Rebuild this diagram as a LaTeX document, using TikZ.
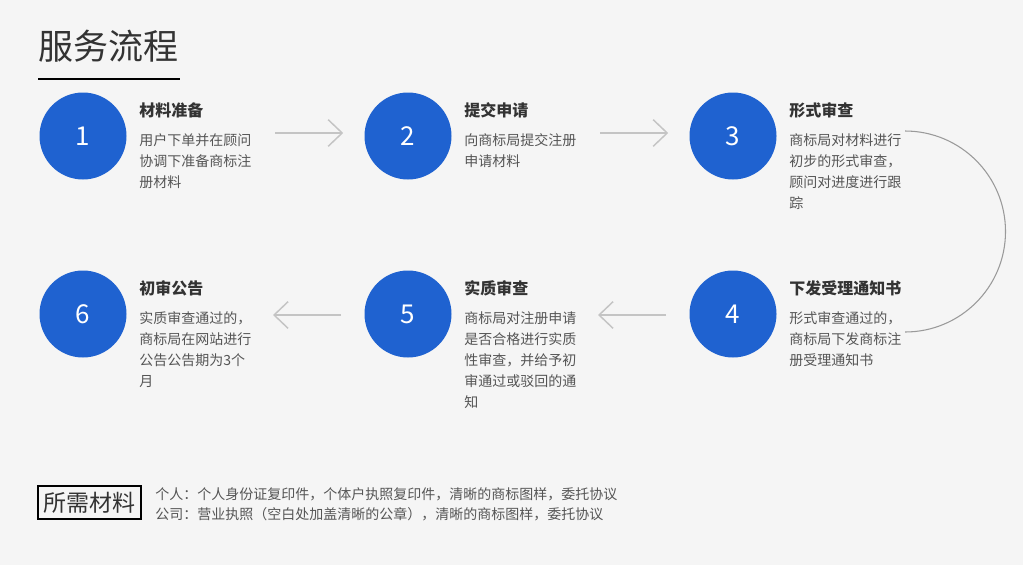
\documentclass[tikz,border=0pt]{standalone}
\usepackage{fontspec}
\setmainfont{Noto Sans CJK SC}
\usetikzlibrary{arrows.meta}
\definecolor{stepblue}{HTML}{1F62D0}
\definecolor{pagegray}{HTML}{F5F5F5}
\definecolor{headgray}{HTML}{333333}
\definecolor{textgray}{HTML}{555555}
\definecolor{arrowgray}{HTML}{C4C4C4}
\definecolor{bendgray}{HTML}{9A9A9A}

\begin{document}
\begin{tikzpicture}[x=0.75pt,y=-0.75pt,
  stepnum/.style={circle,fill=stepblue,inner sep=0pt,minimum size=65.25pt,text=white,font=\fontsize{19.5pt}{19.5pt}\selectfont},
  stephead/.style={anchor=west,inner sep=0pt,text=headgray,font=\fontsize{12pt}{12pt}\selectfont\bfseries},
  stepdesc/.style={anchor=north west,inner sep=0pt,align=left,text=textgray,font=\fontsize{10.5pt}{15.75pt}\selectfont},
  flow/.style={draw=arrowgray,line width=1.1pt,-{Straight Barb[length=10.5pt,width=20pt]}},
  ]
            \fill[pagegray] (0,0) rectangle (1023,565);
            \useasboundingbox (0,0) rectangle (1023,565);

            % title
            \node[anchor=west,inner sep=0pt,text=headgray,font=\fontsize{26.25pt}{26.25pt}\selectfont] (title) at (38,46) {服务流程};
            \draw[line width=1pt] (38,79) -- (180,79);

            % first row
            \node[stepnum] (n1) at (83,136) {1};
            \node[stephead] (h1) at (139,110) {材料准备};
            \node[stepdesc] (d1) at (139,133) {用户下单并在顾问\\协调下准备商标注\\册材料};

            \node[stepnum] (n2) at (408,136) {2};
            \node[stephead] (h2) at (464,110) {提交申请};
            \node[stepdesc] (d2) at (464,133) {向商标局提交注册\\申请材料};

            \node[stepnum] (n3) at (733,136) {3};
            \node[stephead] (h3) at (789,110) {形式审查};
            \node[stepdesc] (d3) at (789,133) {商标局对材料进行\\初步的形式审查，\\顾问对进度进行跟\\踪};

            % second row
            \node[stepnum] (n4) at (733,314) {4};
            \node[stephead] (h4) at (789,288) {下发受理通知书};
            \node[stepdesc] (d4) at (789,311) {形式审查通过的，\\商标局下发商标注\\册受理通知书};

            \node[stepnum] (n5) at (408,314) {5};
            \node[stephead] (h5) at (464,288) {实质审查};
            \node[stepdesc] (d5) at (464,311) {商标局对注册申请\\是否合格进行实质\\性审查，并给予初\\审通过或驳回的通\\知};

            \node[stepnum] (n6) at (83,314) {6};
            \node[stephead] (h6) at (139,288) {初审公告};
            \node[stepdesc] (d6) at (139,311) {实质审查通过的，\\商标局在网站进行\\公告公告期为3个\\月};

            % arrows
            \coordinate (a12) at (275,133);
            \coordinate (a23) at (600,133);
            \coordinate (a45) at (666,315);
            \coordinate (a56) at (341,315);
            \draw[flow,shorten >=15.75pt] (a12) -- (a12 -| n2.west);
            \draw[flow,shorten >=15.75pt] (a23) -- (a23 -| n3.west);
            \draw[flow] (a45) -- ++(-68,0);
            \draw[flow] (a56) -- ++(-68,0);

            \coordinate (c3) at (905,131);
            \draw[bendgray,line width=0.8pt] (c3) arc[start angle=-90,end angle=90,radius=100.5];

            % materials
            \node[draw,line width=0.8pt,inner sep=0pt,minimum width=77.25pt,minimum height=24.75pt,text=headgray,font=\fontsize{17.25pt}{17.25pt}\selectfont] (need) at (89.5,502.5) {所需材料};
            \node[anchor=west,inner sep=0pt,align=left,text=textgray,font=\fontsize{10.5pt}{15pt}\selectfont] (needlist) at (155,504) {个人：个人身份证复印件，个体户执照复印件，清晰的商标图样，委托协议\\公司：营业执照（空白处加盖清晰的公章），清晰的商标图样，委托协议};
          \end{tikzpicture}
\end{document}
